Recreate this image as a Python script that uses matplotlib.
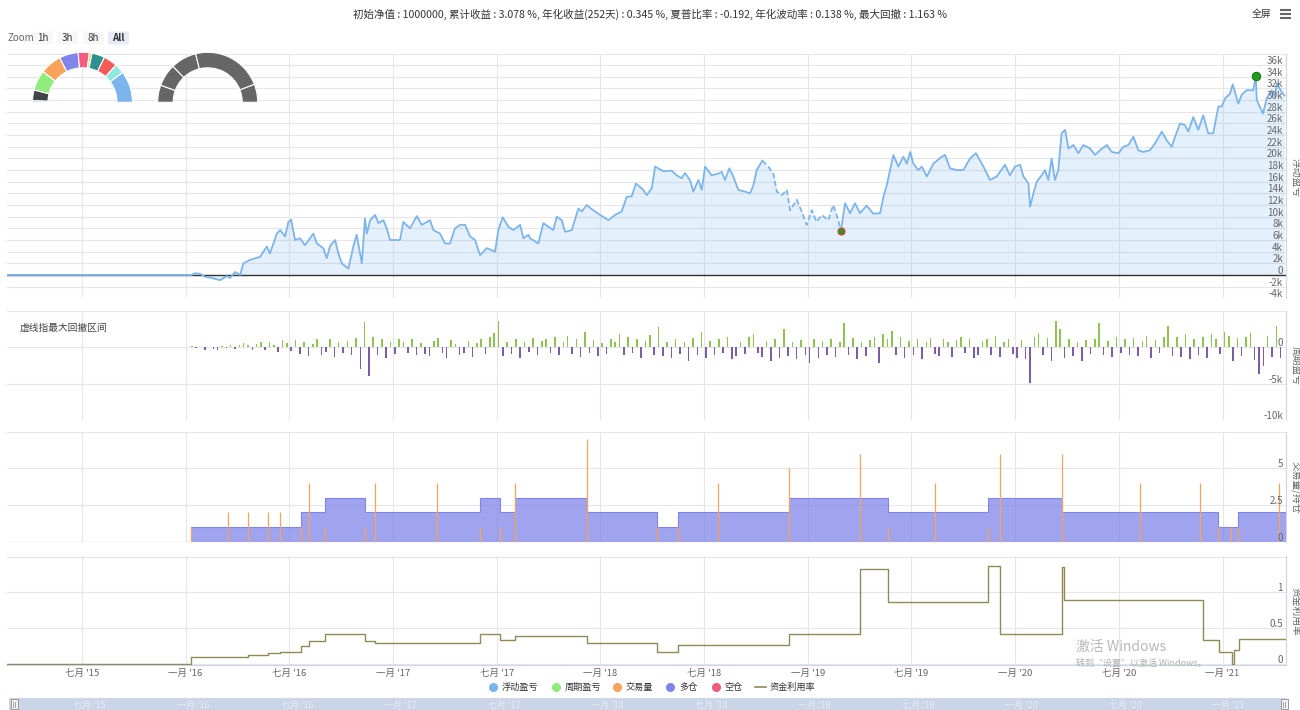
import numpy as np
import matplotlib
matplotlib.use('Agg')
import matplotlib.pyplot as plt
from matplotlib.transforms import offset_copy, blended_transform_factory
from matplotlib.patches import FancyBboxPatch, Rectangle

plt.rcParams['font.family'] = ['Noto Sans CJK SC', 'DejaVu Sans']

# ---------------- data ----------------
title_text = ("初始净值 : 1000000, 累计收益 : 3.078 %, 年化收益(252天) : 0.345 %, "
              "夏普比率 : -0.192, 年化波动率 : 0.138 %, 最大回撤 : 1.163 %")

# x values are decimal years
x_range = (2015.139, 2021.306)
xtick_pos = [2015.5, 2016.0, 2016.5, 2017.0, 2017.5, 2018.0, 2018.5, 2019.0,
             2019.5, 2020.0, 2020.5, 2021.0]
xtick_labels = ["七月 '15", "一月 '16", "七月 '16", "一月 '17", "七月 '17", "一月 '18",
                "七月 '18", "一月 '19", "七月 '19", "一月 '20", "七月 '20", "一月 '21"]

# floating P&L (thousands)
eq_dates = [
    2015.139, 2016.030, 2016.046, 2016.070, 2016.094, 2016.126, 2016.166, 2016.199, 2016.215, 2016.239,
    2016.263, 2016.279, 2016.311, 2016.359, 2016.392, 2016.407, 2016.440, 2016.456, 2016.480, 2016.496,
    2016.509, 2016.528, 2016.552, 2016.576, 2016.616, 2016.633, 2016.664, 2016.681, 2016.697, 2016.721,
    2016.737, 2016.753, 2016.785, 2016.809, 2016.825, 2016.850, 2016.865, 2016.874, 2016.890, 2016.914,
    2016.930, 2016.954, 2016.970, 2016.986, 2017.034, 2017.050, 2017.082, 2017.115, 2017.139, 2017.179,
    2017.195, 2017.227, 2017.251, 2017.275, 2017.299, 2017.324, 2017.348, 2017.372, 2017.396, 2017.420,
    2017.452, 2017.492, 2017.508, 2017.529, 2017.556, 2017.581, 2017.613, 2017.629, 2017.653, 2017.661,
    2017.701, 2017.725, 2017.773, 2017.790, 2017.814, 2017.830, 2017.862, 2017.894, 2017.910, 2017.934,
    2017.966, 2017.999, 2018.039, 2018.071, 2018.103, 2018.127, 2018.151, 2018.172, 2018.207, 2018.224,
    2018.248, 2018.264, 2018.304, 2018.344, 2018.368, 2018.392, 2018.408, 2018.432, 2018.448, 2018.473,
    2018.489, 2018.505, 2018.537, 2018.569, 2018.585, 2018.601, 2018.622, 2018.641, 2018.665, 2018.698,
    2018.722, 2018.738, 2018.754, 2018.781, 2018.810, 2018.834, 2018.851, 2018.875, 2018.899, 2018.915,
    2018.947, 2018.971, 2018.995, 2019.019, 2019.043, 2019.067, 2019.099, 2019.123, 2019.147, 2019.160,
    2019.180, 2019.204, 2019.228, 2019.252, 2019.284, 2019.316, 2019.349, 2019.365, 2019.381, 2019.397,
    2019.413, 2019.437, 2019.461, 2019.478, 2019.494, 2019.509, 2019.533, 2019.550, 2019.574, 2019.606,
    2019.646, 2019.662, 2019.686, 2019.718, 2019.750, 2019.783, 2019.811, 2019.847, 2019.879, 2019.911,
    2019.951, 2019.975, 2019.999, 2020.024, 2020.040, 2020.064, 2020.072, 2020.088, 2020.104, 2020.128,
    2020.144, 2020.160, 2020.176, 2020.192, 2020.208, 2020.224, 2020.241, 2020.257, 2020.281, 2020.305,
    2020.329, 2020.361, 2020.385, 2020.409, 2020.442, 2020.466, 2020.498, 2020.522, 2020.546, 2020.570,
    2020.594, 2020.618, 2020.650, 2020.675, 2020.707, 2020.731, 2020.755, 2020.771, 2020.795, 2020.819,
    2020.835, 2020.859, 2020.883, 2020.907, 2020.931, 2020.955, 2020.980, 2020.996, 2021.012, 2021.036,
    2021.049, 2021.076, 2021.092, 2021.116, 2021.148, 2021.160, 2021.165, 2021.195, 2021.213, 2021.237,
    2021.253, 2021.262, 2021.280, 2021.298,
]
eq_vals = [
    0.0, 0.0, 0.3, 0.2, -0.3, -0.5, -0.9, -0.2, -0.5, 0.5,
    0.0, 2.0, 2.6, 3.1, 4.9, 3.7, 7.1, 7.7, 6.6, 9.1,
    9.5, 6.0, 6.3, 5.1, 7.1, 5.4, 4.6, 2.9, 5.0, 6.0,
    3.7, 2.0, 1.1, 4.9, 6.9, 2.0, 9.7, 7.1, 9.4, 10.3,
    8.9, 9.4, 8.0, 6.0, 6.0, 9.1, 8.0, 10.1, 8.6, 9.4,
    7.7, 7.1, 5.4, 5.4, 8.0, 8.6, 8.6, 6.6, 6.0, 3.4,
    4.6, 4.0, 7.7, 9.9, 8.3, 7.7, 8.6, 6.3, 6.9, 6.3,
    5.4, 8.9, 7.7, 10.0, 9.4, 7.4, 7.7, 11.4, 10.9, 12.0,
    11.1, 10.3, 9.4, 10.3, 10.9, 13.4, 13.5, 15.7, 14.6, 13.7,
    14.9, 18.6, 17.8, 17.9, 17.1, 16.6, 17.5, 16.3, 14.3, 16.3,
    14.6, 18.6, 17.1, 17.4, 17.7, 16.3, 18.3, 16.9, 14.6, 14.3,
    14.0, 15.4, 18.0, 19.6, 18.6, 17.4, 14.3, 13.7, 14.6, 11.1,
    12.9, 10.9, 8.6, 11.1, 9.1, 10.3, 9.4, 12.0, 9.4, 7.6,
    12.3, 10.6, 12.3, 10.6, 11.9, 10.5, 10.6, 13.4, 15.4, 18.0,
    20.6, 18.6, 20.3, 19.1, 21.1, 19.1, 18.0, 18.6, 16.9, 19.1,
    20.3, 20.6, 18.3, 18.0, 18.0, 20.0, 20.9, 18.6, 16.3, 16.9,
    18.9, 17.1, 18.6, 18.9, 16.9, 15.7, 11.7, 14.0, 16.0, 17.1,
    18.0, 16.3, 20.0, 16.3, 18.0, 24.3, 24.9, 21.7, 22.3, 20.9,
    22.3, 21.7, 20.6, 21.4, 22.3, 21.1, 20.9, 22.0, 22.3, 23.7,
    21.4, 21.1, 21.4, 22.6, 24.6, 23.1, 22.0, 23.7, 26.0, 25.7,
    24.6, 27.1, 24.9, 27.4, 24.3, 24.3, 28.9, 28.9, 30.3, 31.1,
    32.7, 29.4, 30.9, 31.7, 31.7, 34.1, 30.0, 27.7, 30.3, 31.7,
    30.6, 32.9, 31.7, 30.8,
]
dd_start, dd_end = 2018.781, 2019.160      # max drawdown interval (dashed)
max_date = 2021.160                        # highest floating P&L

# period P&L (thousands), weekly bars
bar_start, bar_step = 2016.03, 1 / 48
bar_vals = [
    0.2, -0.1, 0.1, -0.3, 0.1, -0.2, -0.4, 0.2, -0.1, 0.3, -0.2, 0.4,
    0.6, 0.3, -0.3, 0.5, 0.8, -0.4, 0.7, 0.4, -0.6, 1.0, 0.6, -0.5,
    1.0, -0.9, 0.8, -1.2, 0.5, 1.1, -1.0, -0.6, 1.2, -1.3, 0.7, -0.8,
    0.9, -1.1, 1.3, -2.9, 3.5, -4.0, 1.5, -1.0, 1.2, -1.4, 0.8, -0.9,
    1.1, 0.7, -0.8, 1.2, -1.1, 0.6, -0.9, -1.2, 0.9, 1.3, -0.7, -1.5,
    1.0, 0.5, -1.1, -0.8, 0.9, -1.3, 0.6, 1.1, -0.9, 1.5, 2.0, 3.6,
    -1.2, 0.8, -0.9, 1.1, -1.4, 0.7, -0.6, 1.3, -1.0, 0.9, 1.2, -0.8,
    1.4, -1.1, 0.8, 1.6, -0.9, 1.2, -1.3, 2.2, -0.7, 1.0, -1.2, 0.6,
    -0.9, 1.1, 0.7, 1.8, -1.0, 1.5, -0.8, 1.2, -1.4, 0.9, 1.7, -1.1,
    2.8, -1.2, 0.8, -1.5, 1.1, -0.9, 0.7, -1.8, 1.3, -1.0, 2.2, -1.4,
    0.9, -1.1, 1.2, -0.8, 1.5, -1.6, -1.2, 0.8, -0.9, 1.4, 1.9, -0.7,
    -1.3, 0.9, -1.8, 1.1, -1.5, 2.5, -1.2, 0.8, -1.6, 1.0, -1.1, -2.1,
    1.2, -1.4, 0.9, -1.0, 1.1, -1.3, 0.7, 3.4, -1.1, 1.3, -1.6, 0.8,
    -1.2, 1.0, 1.5, -2.1, 1.8, 1.2, 2.3, -1.0, 1.4, -1.5, 0.9, -1.1,
    1.2, -1.6, 0.8, 1.3, -0.9, -1.2, 1.1, 0.7, -1.3, 1.0, 1.4, -0.8,
    1.1, -1.5, -1.1, 0.9, 1.2, -1.0, 1.6, -1.3, 0.8, 1.2, -0.9, -1.4,
    1.0, -1.6, -4.9, 1.5, 2.0, -1.1, 1.3, -1.8, 3.6, 2.6, -1.4, 1.1,
    -1.2, 0.8, -1.9, 1.0, -0.9, 1.2, 3.4, -1.1, 0.9, -1.3, 1.4, -0.8,
    1.1, -1.0, 1.3, -1.2, 0.9, 1.6, -1.4, 1.0, -0.8, 1.5, 3.0, -1.2,
    1.4, -1.3, 1.8, -1.6, 1.2, -1.1, 1.5, -1.4, 1.9, 1.2, -0.9, 2.2,
    1.6, -1.8, 1.3, -1.2, 1.5, 2.0, -1.7, -3.7, -2.6, 1.6, -1.3, 3.0, -1.5,
]

# long position (lots), step series
pos_dates = [2015.139, 2016.027, 2016.557, 2016.673, 2016.865, 2017.420, 2017.516, 2017.589,
             2017.936, 2018.273, 2018.375, 2018.910, 2019.387, 2019.869, 2020.226, 2020.978,
             2021.074, 2021.306]
pos_vals = [0, 1, 2, 3, 2, 3, 2, 3, 2, 1, 2, 3, 2, 3, 2, 1, 2, 2]

# trade volume
vol_dates = [2016.027, 2016.205, 2016.301, 2016.398, 2016.456, 2016.557, 2016.595, 2016.673,
             2016.865, 2016.914, 2017.213, 2017.420, 2017.516, 2017.589, 2017.936, 2018.273,
             2018.375, 2018.568, 2018.910, 2019.252, 2019.387, 2019.614, 2019.869, 2019.927,
             2020.226, 2020.602, 2020.891, 2020.978, 2021.041, 2021.074, 2021.272]
vol_vals = [1, 2, 2, 2, 2, 1, 4, 1, 1, 4, 4, 1, 1, 4, 7, 1, 1, 4, 5, 6, 1, 4, 1, 6, 6, 4, 4, 1, 1, 1, 4]

# capital utilisation, step series
util_dates = [2015.139, 2016.027, 2016.301, 2016.398, 2016.456, 2016.557, 2016.595, 2016.673,
              2016.865, 2016.914, 2017.420, 2017.516, 2017.589, 2017.936, 2018.273, 2018.375,
              2018.910, 2019.252, 2019.387, 2019.869, 2019.927, 2020.226, 2020.236, 2020.907,
              2020.984, 2021.047, 2021.056, 2021.080, 2021.306]
util_vals = [0.0, 0.10, 0.12, 0.15, 0.17, 0.25, 0.32, 0.42, 0.32, 0.29, 0.42, 0.33, 0.39, 0.29,
             0.17, 0.26, 0.42, 1.32, 0.86, 1.37, 0.42, 1.35, 0.89, 0.33, 0.17, 0.0, 0.2, 0.35, 0.35]

# gauges (degrees of half circle)
gauge1_sizes = [2, 12.3, 23.7, 25, 22, 13, 3, 15, 16, 11.5, 36.5]
gauge1_colors = ['#7cb5ec', '#434348', '#90ed7d', '#f7a35c', '#8085e9', '#f15c80',
                 '#e4d354', '#2b908f', '#f45b5b', '#91e8e1', '#7cb5ec']
gauge2_sizes = [20, 26, 30, 83, 21]

legend_items = ['浮动盈亏', '周期盈亏', '交易量', '多仓', '空仓', '资金利用率']
legend_colors = ['#7cb5ec', '#90ed7d', '#f7a35c', '#8085e9', '#f15c80', '#8f8a5a']

# ---------------- figure ----------------
W, H = 1300, 710
fig = plt.figure(figsize=(W / 100, H / 100), dpi=100)
GRID = '#e6e6e6'
AXC = '#ccd6eb'
TXT = '#666666'


def axes_px(top, bottom, left=7, right=1286):
    return fig.add_axes([left / W, 1 - bottom / H, (right - left) / W, (bottom - top) / H])


ax1 = axes_px(53.5, 298.3)
ax2 = axes_px(311.2, 420.0)
ax3 = axes_px(431.7, 541.7)
ax4 = axes_px(556.0, 665.0)
axes = [ax1, ax2, ax3, ax4]

for ax in axes:
    ax.set_xlim(*x_range)
    for s in ['left', 'top', 'bottom']:
        ax.spines[s].set_visible(False)
    ax.spines['right'].set_color(AXC)
    ax.spines['right'].set_linewidth(0.8)
    ax.set_xticks(xtick_pos)
    ax.tick_params(length=0, labelbottom=False, labelleft=False)
    ax.grid(True, color=GRID, lw=0.8)
    ax.set_axisbelow(True)
    ax.set_facecolor('none')


def ylabels(ax, vals, texts):
    tr = offset_copy(ax.get_yaxis_transform(), fig=fig, x=-3, y=4, units='dots')
    for v, t in zip(vals, texts):
        ax.text(1.0, v, t, transform=tr, ha='right', va='center', fontsize=7, color=TXT)


# ---- panel 1: floating P&L ----
ex = np.array(eq_dates)
ey = np.array(eq_vals)
ax1.set_ylim(-4, 38)
ax1.set_yticks(np.arange(-4, 39, 2))
ax1.fill_between(ex, ey, 0, color='#7cb5ec', alpha=0.2, lw=0)
m1 = ex <= dd_start
m2 = (ex >= dd_start) & (ex <= dd_end)
m3 = ex >= dd_end
ax1.axhline(0, color='#333333', lw=1.0, zorder=2)
ax1.plot(ex[m1], ey[m1], color='#7cb5ec', lw=1.3, zorder=3)
ax1.plot(ex[m2], ey[m2], color='#7cb5ec', lw=1.3, ls=(0, (3, 1.5)), zorder=3)
ax1.plot(ex[m3], ey[m3], color='#7cb5ec', lw=1.3, zorder=3)
ti = int(np.argmin(np.abs(ex - dd_end)))
mi = int(np.argmin(np.abs(ex - max_date)))
ax1.plot(ex[ti], ey[ti], 'o', ms=5, mfc='#1f9e1f', mec='#e04040', mew=0.9, zorder=5)
ax1.plot(ex[mi], ey[mi], 'o', ms=6, mfc='#1f9e1f', mec='#167516', mew=0.8, zorder=5)
ylabels(ax1, list(range(-4, 37, 2)), [f'{v}k' if v != 0 else '0' for v in range(-4, 37, 2)])

# ---- panel 2: period P&L ----
bv = np.array(bar_vals)
bx = bar_start + np.arange(len(bv)) * bar_step
ax2.set_ylim(-10, 5)
ax2.set_yticks([-10, -5, 0, 5])
ax2.bar(bx, bv, width=0.0075, color=np.where(bv >= 0, '#8fc351', '#7b5ea7'), lw=0, zorder=3)
ylabels(ax2, [0, -5, -10], ['0', '-5k', '-10k'])

# ---- panel 3: volume / position ----
ax3.set_ylim(0, 7.5)
ax3.set_yticks([0, 2.5, 5, 7.5])
ax3.fill_between(pos_dates, pos_vals, 0, step='post', color='#8085e9', alpha=0.75, lw=0, zorder=2)
ax3.step(pos_dates, pos_vals, where='post', color='#8085e9', lw=0.8, zorder=2)
ax3.vlines(vol_dates, 0, vol_vals, color='#f7a35c', lw=0.9, zorder=3)
ylabels(ax3, [0, 2.5, 5], ['0', '2.5', '5'])

# ---- panel 4: capital utilisation ----
ax4.set_ylim(-0.014, 1.507)
ax4.set_yticks([0, 0.5, 1.0, 1.5])
ax4.step(util_dates, util_vals, where='post', color='#8f8a5a', lw=1.0, zorder=3)
ax4.spines['bottom'].set_visible(True)
ax4.spines['bottom'].set_color(AXC)
ax4.set_xticklabels(xtick_labels)
ax4.tick_params(labelbottom=True, labelsize=6.8, labelcolor=TXT, pad=3)
ylabels(ax4, [0, 0.5, 1], ['0', '0.5', '1'])

# ---- navigator ----
nav = axes_px(698, 712, left=9, right=1286)
nav.set_xlim(*x_range)
nav.set_ylim(0, 1)
nav.set_facecolor('#cbd5e8')
for s in nav.spines.values():
    s.set_visible(False)
nav.set_xticks([])
nav.set_yticks([])
ntr = offset_copy(blended_transform_factory(nav.transData, nav.transAxes), fig=fig, x=6, y=0, units='dots')
for p, lab in zip(xtick_pos, xtick_labels):
    nav.text(p, 0.45, lab, transform=ntr, ha='center', va='center', fontsize=6.5, color='#e6ebf3')

# ---- overlay (pixel coordinates) ----
ov = fig.add_axes([0, 0, 1, 1], facecolor='none')
ov.set_xlim(0, W)
ov.set_ylim(H, 0)
ov.axis('off')

ov.text(650, 14, title_text, ha='center', va='center', fontsize=7.6, color='#333333')
ov.text(1262, 14, '全屏', ha='center', va='center', fontsize=7, color='#333333')
for yy in (10, 14, 18):
    ov.plot([1280, 1291], [yy, yy], color='#666666', lw=1.5, solid_capstyle='butt')

# zoom buttons
ov.text(7, 38, 'Zoom', ha='left', va='center', fontsize=7, color=TXT)
for lab, xl, sel in [('1h', 32, False), ('3h', 57, False), ('8h', 83, False), ('All', 108, True)]:
    ov.add_patch(FancyBboxPatch((xl, 31.5), 21, 13, boxstyle='round,pad=0,rounding_size=2',
                                fc='#e6ebf5' if sel else '#f7f7f7', ec='none'))
    ov.text(xl + 10.5, 38.2, lab, ha='center', va='center', fontsize=7, color='#333333',
            fontweight='bold' if sel else 'normal')

# axis titles
for txt, yc in [('浮动盈亏', 178), ('周期盈亏', 366), ('交易量/持仓', 487), ('资金利用率', 611)]:
    ov.text(1296, yc, txt, rotation=270, ha='center', va='center', fontsize=7, color=TXT)

ov.text(20, 328, '虚线指最大回撤区间', ha='left', va='center', fontsize=7, color='#444444')

# legend
leg_x = [493, 556, 617, 670, 716, 760]
leg_tx = [502, 565, 626, 679, 724, 770]
for i, (name, col) in enumerate(zip(legend_items, legend_colors)):
    if i < 5:
        ov.plot(leg_x[i], 687, 'o', ms=5.5, color=col)
    else:
        ov.plot([leg_x[i] - 5, leg_x[i] + 6], [687, 687], color=col, lw=1.2)
    ov.text(leg_tx[i], 687, name, ha='left', va='center', fontsize=6.6, color='#333333')

# navigator handles
for hx in (14, 1284):
    ov.add_patch(Rectangle((hx - 3.5, 699), 7, 10, fc='#f2f2f2', ec='#999999', lw=0.7))
    ov.plot([hx - 1, hx - 1], [701.5, 706.5], color='#999999', lw=0.6)
    ov.plot([hx + 1, hx + 1], [701.5, 706.5], color='#999999', lw=0.6)

# watermark of the screenshot
ov.text(1076, 647, '激活 Windows', ha='left', va='center', fontsize=10, color='#b8b8b8')
ov.text(1076, 663, '转到“设置”以激活 Windows。', ha='left', va='center', fontsize=6.5, color='#b0b0b0')


# gauges
def gauge(cx, cy, sizes, colors, R=50):
    axg = fig.add_axes([(cx - R) / W, 1 - (cy + R) / H, 2 * R / W, 2 * R / H])
    vals = list(sizes) + [sum(sizes)]
    cols = list(colors) + ['white']
    wedges, _ = axg.pie(vals, colors=cols, startangle=180, counterclock=False, radius=1,
                        wedgeprops=dict(width=0.31, edgecolor='white', linewidth=0.8))
    wedges[-1].set_visible(False)
    axg.set_xlim(-1, 1)
    axg.set_ylim(-1, 1)
    axg.axis('off')


gauge(82.5, 102.3, gauge1_sizes, gauge1_colors)
gauge(207.7, 102.3, gauge2_sizes, ['#666666'] * len(gauge2_sizes))

fig.savefig('out.png', dpi=100)
